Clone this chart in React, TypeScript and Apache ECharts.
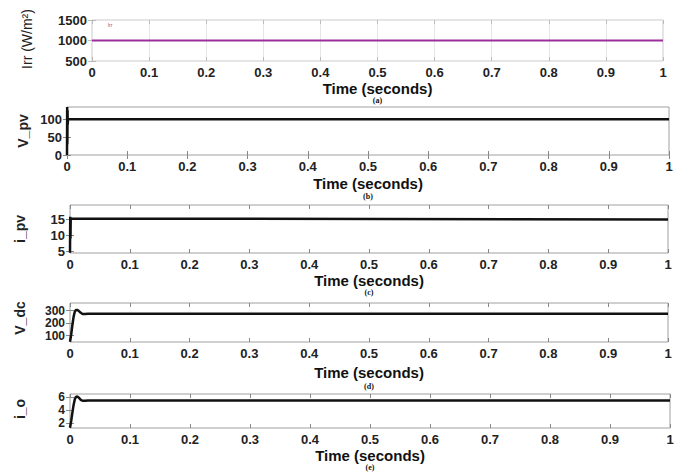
import React, { useEffect, useRef } from "react";
import * as echarts from "echarts";

// ---------- data ----------
const timeTicks = [0, 0.1, 0.2, 0.3, 0.4, 0.5, 0.6, 0.7, 0.8, 0.9, 1];

const irrTime = [0, 1];
const irrValues = [1000, 1000];
const irrTicks = [500, 1000, 1500];

const vpvTime = [0, 0.0003, 0.0006, 0.0009, 0.0012, 0.0016, 1];
const vpvValues = [0, 134, 30, 125, 85, 100, 100];
const vpvTicks = [0, 50, 100];

const ipvTime = [0, 0.0004, 0.0008, 0.0012, 1];
const ipvValues = [4.6, 15.8, 9, 15.3, 15];
const ipvTicks = [5, 10, 15];

const vdcTime = [0, 0.002, 0.004, 0.006, 0.008, 0.01, 0.012, 0.015, 0.018, 0.021, 0.025, 0.03, 1];
const vdcValues = [52, 110, 185, 250, 290, 304, 305, 296, 282, 273, 272, 275, 275];
const vdcTicks = [100, 200, 300];

const ioTime = [0, 0.002, 0.004, 0.006, 0.008, 0.01, 0.012, 0.015, 0.018, 0.021, 0.025, 0.03, 1];
const ioValues = [1.25, 2.3, 3.6, 4.8, 5.7, 6.05, 6.1, 5.9, 5.6, 5.45, 5.45, 5.5, 5.5];
const ioTicks = [2, 4, 6];

const yNames = ["Irr (W/m\u00B2)", "V_pv", "i_pv", "V_dc", "i_o"];
const captions = ["(a)", "(b)", "(c)", "(d)", "(e)"];
const xName = "Time (seconds)";
const irrLegend = "Irr";

// ---------- layout ----------
const panels = [
  { t: irrTime, v: irrValues, ticks: irrTicks, yMin: 500, yMax: 1500, left: 92, top: 20, right: 17, height: 41, color: "#9a2e9a", width: 2, gridLines: true, yFont: 13, yNameX: 27, yNameY: 39, yNameBold: false, timeY: 88, capY: 100 },
  { t: vpvTime, v: vpvValues, ticks: vpvTicks, yMin: 0, yMax: 134, left: 67, top: 107, right: 11, height: 48, color: "#111", width: 2.5, gridLines: false, yFont: 13, yNameX: 23, yNameY: 131, yNameBold: true, timeY: 183, capY: 196 },
  { t: ipvTime, v: ipvValues, ticks: ipvTicks, yMin: 4.5, yMax: 19.5, left: 70, top: 205, right: 12, height: 48, color: "#111", width: 2.5, gridLines: false, yFont: 13, yNameX: 20, yNameY: 229, yNameBold: true, timeY: 280, capY: 292 },
  { t: vdcTime, v: vdcValues, ticks: vdcTicks, yMin: 50, yMax: 360, left: 70, top: 303, right: 12, height: 39, color: "#111", width: 2.5, gridLines: false, yFont: 12, yNameX: 20, yNameY: 318, yNameBold: true, timeY: 372, capY: 386 },
  { t: ioTime, v: ioValues, ticks: ioTicks, yMin: 1.2, yMax: 6.5, left: 70, top: 394, right: 10, height: 34, color: "#111", width: 2.5, gridLines: false, yFont: 12, yNameX: 20, yNameY: 409, yNameBold: true, timeY: 455, capY: 467 },
];

const FONT = "'Liberation Sans', Arial, sans-serif";
const fmt = (v: number) => String(v);

export default function App() {
  const ref = useRef<HTMLDivElement>(null);
  useEffect(() => {
    if (!ref.current) return;
    const chart = echarts.init(ref.current, undefined, { renderer: "svg" });

    const grid: any[] = [];
    const xAxis: any[] = [];
    const yAxis: any[] = [];
    const series: any[] = [];
    const graphic: any[] = [];

    panels.forEach((p, i) => {
      grid.push({
        left: p.left, top: p.top, right: p.right, height: p.height,
        show: true, borderColor: p.gridLines ? "#c8c8c8" : "#a0a0a0", borderWidth: 1,
        backgroundColor: "#fff",
      });
      const tickStyle = { show: true, inside: true, length: 4, lineStyle: { color: p.gridLines ? "#bbb" : "#888", width: 1 } };
      xAxis.push({
        type: "value", gridIndex: i, min: 0, max: 1, interval: 0.1, position: "bottom",
        axisLine: { show: false },
        axisTick: { ...tickStyle, customValues: timeTicks },
        axisLabel: { show: true, customValues: timeTicks, hideOverlap: false, formatter: fmt, margin: 5, fontSize: 13, fontWeight: "bold", color: "#222", fontFamily: FONT },
        splitLine: { show: p.gridLines, lineStyle: { color: "#e6e6e6", width: 1 } },
      });
      xAxis.push({
        type: "value", gridIndex: i, min: 0, max: 1, interval: 0.1, position: "top",
        axisLine: { show: false }, axisTick: { ...tickStyle, customValues: timeTicks }, axisLabel: { show: false }, splitLine: { show: false },
      });
      const yLeft: any = {
        type: "value", gridIndex: i, min: p.yMin, max: p.yMax, position: "left",
        axisLine: { show: false },
        axisTick: { ...tickStyle, customValues: p.ticks },
        axisLabel: { show: true, customValues: p.ticks, hideOverlap: false, formatter: fmt, margin: 5, fontSize: p.yFont, lineHeight: p.yFont, fontWeight: "bold", color: "#222", fontFamily: FONT },
        splitLine: { show: p.gridLines, lineStyle: { color: "#e6e6e6", width: 1 } },
      };
      if (p.gridLines) yLeft.interval = 500;
      yAxis.push(yLeft);
      const yRight: any = {
        type: "value", gridIndex: i, min: p.yMin, max: p.yMax, position: "right",
        axisLine: { show: false }, axisTick: { ...tickStyle, customValues: p.ticks }, axisLabel: { show: false }, splitLine: { show: false },
      };
      if (p.gridLines) yRight.interval = 500;
      yAxis.push(yRight);

      series.push({
        type: "line", xAxisIndex: 2 * i, yAxisIndex: 2 * i,
        data: p.t.map((x, k) => [x, p.v[k]]),
        showSymbol: false, symbol: "none", clip: false,
        lineStyle: { color: p.color, width: p.width },
        z: 5,
      });

      const cx = p.left + (680 - p.left - p.right) / 2;
      graphic.push({
        type: "text", x: p.yNameX, y: p.yNameY, rotation: Math.PI / 2,
        style: {
          text: yNames[i], fontSize: 14, fontWeight: p.yNameBold ? "bold" : "normal",
          fontFamily: FONT, fill: "#222", align: "center", verticalAlign: "middle",
        },
      });
      graphic.push({
        type: "text", x: cx, y: p.timeY,
        style: { text: xName, fontSize: 15, fontWeight: "bold", fontFamily: FONT, fill: "#111", align: "center", verticalAlign: "middle" },
      });
      graphic.push({
        type: "text", x: cx, y: p.capY,
        style: { text: captions[i], fontSize: 8, fontWeight: "bold", fontFamily: "'Liberation Serif', 'Times New Roman', serif", fill: "#111", align: "center", verticalAlign: "middle" },
      });
    });

    graphic.push({
      type: "text", x: 110, y: 25,
      style: { text: irrLegend, fontSize: 5, fontFamily: FONT, fill: "#c0405a", align: "center", verticalAlign: "middle" },
    });

    chart.setOption({
      animation: false,
      backgroundColor: "#fff",
      grid, xAxis, yAxis, series, graphic,
    });
    return () => chart.dispose();
  }, []);

  return (
    <div
      ref={ref}
      style={{ position: "fixed", left: 0, top: 0, width: 680, height: 473, background: "#fff" }}
    />
  );
}
